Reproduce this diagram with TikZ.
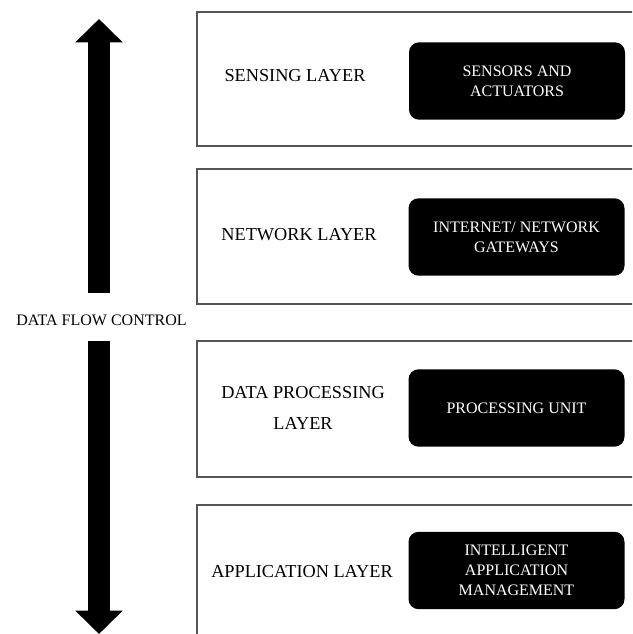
\documentclass[tikz,border=0pt]{standalone}
\usepackage{fontspec}
\setmainfont{Liberation Serif}
\usetikzlibrary{arrows.meta}

\tikzset{every picture/.style={line width=0.75pt}}
\tikzset{
  layerbox/.style={draw={rgb, 255:red, 85; green, 85; blue, 85}, line width=1pt},
  layerlabel/.style={inner sep=0.75pt, align=center, font=\fontsize{13.7}{23.3}\selectfont},
  unitbox/.style={fill=black, text=white, rounded corners=7.5pt, minimum width=162pt, minimum height=58pt, inner sep=0.75pt, align=center, font=\fontsize{12}{15}\selectfont},
  flowlabel/.style={inner sep=0pt, minimum height=35.25pt, text height=13.2pt, text depth=0pt, font=\fontsize{12}{14}\selectfont},
  flowarrow/.style={line width=16.5pt, -{Triangle[width=34.5pt,length=17.5pt]}},
}

\begin{document}
\begin{tikzpicture}[x=0.75pt,y=0.75pt,yscale=-1,xscale=1]
  \clip (0,0) rectangle (632,634);

  %Shape: Rectangle [sensing layer]
  \draw [layerbox] (197,12) rectangle (660,146);
  %Shape: Rectangle [network layer]
  \draw [layerbox] (197,169) rectangle (660,304);
  %Shape: Rectangle [data processing layer]
  \draw [layerbox] (197,341) rectangle (660,477);
  %Shape: Rectangle [application layer]
  \draw [layerbox] (197,505) rectangle (660,660);

  % Text Node
  \node [layerlabel] (sensing) at (295,76) {SENSING LAYER};
  % Text Node
  \node [layerlabel] (network) at (299,235) {NETWORK LAYER};
  % Text Node
  \node [layerlabel] (processing) at (303,407.5) {DATA PROCESSING\\LAYER};
  % Text Node
  \node [layerlabel] (application) at (302,572) {APPLICATION LAYER};

  %Shape: Rounded Rect
  \node [unitbox] (sensors) at (517,81) {SENSORS AND\\ACTUATORS};
  %Shape: Rounded Rect
  \node [unitbox] (gateways) at (516.5,237) {INTERNET/ NETWORK\\GATEWAYS};
  %Shape: Rounded Rect
  \node [unitbox] (unit) at (516.5,408) {PROCESSING UNIT};
  %Shape: Rounded Rect
  \node [unitbox] (intelligent) at (516.5,570.5) {INTELLIGENT\\APPLICATION\\MANAGEMENT};

  % Text Node
  \node [flowlabel] (flow) at (101.5,316.5) {DATA FLOW CONTROL};
  \coordinate (uptip) at (99,19);
  \coordinate (downtip) at (99,634);

  %Shape: Arrow
  \draw [flowarrow] (uptip |- flow.north) -- (uptip);
  %Shape: Arrow
  \draw [flowarrow] (downtip |- flow.south) -- (downtip);

\end{tikzpicture}
\end{document}
